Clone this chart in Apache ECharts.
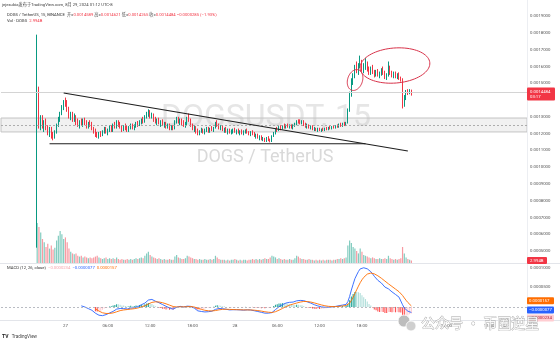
<!DOCTYPE html>
<html><head><meta charset="utf-8">
<script src="https://cdn.jsdelivr.net/npm/echarts@6/dist/echarts.min.js"></script>
<style>html,body{margin:0;padding:0;background:#fff}#c{width:560px;height:345px}</style>
</head><body><div id="c"></div>
<script>
// ---------------- DATA (prices in units of 1e-7 USDT, volume in billions DOGS) ----------------
const opens = [6000,
14700,12600,13000,12400,12700,12300,12100,12300,11900,11750,12100,12500,12900,13200,13600,
13900,13700,13400,13100,13200,12900,13000,12700,12500,12700,12600,12800,12600,12400,12600,
12500,12300,12100,11950,11850,12000,11900,12100,12300,12100,12200,12400,12200,12500,12400,
12700,12500,12350,12200,12400,12300,12200,12350,12500,12300,12450,12600,12500,12700,12800,
12700,13000,13200,13300,13000,13150,12800,12700,12850,12600,12700,12500,12600,12400,12500,
12300,12400,12300,12700,12900,12700,12800,12600,12500,12600,12900,12800,12500,12300,12400,
12100,12000,12150,12250,12100,12200,12300,12150,12300,12200,12350,12600,12500,12350,12400,
12200,12300,12100,12200,12050,12150,12250,12100,12200,12050,12150,12000,12100,12200,12050,
11950,12100,11950,11850,11900,11750,11800,11650,11700,11550,11750,11600,11550,11850,12050,
12250,12200,12400,12300,12450,12400,12500,12400,12450,12350,12500,12550,12750,12700,12600,
12750,12500,12400,12500,12350,12450,12250,12300,12200,12300,12200,12250,12200,12300,12250,
12350,12300,12400,12350,12450,12400,12550,12450,12600,12500,12650,13400,14400,15200,15500,
15900,15800,16100,16200,15900,16000,16100,15800,15700,15900,15600,15500,15700,15450,15600,
15800,15600,15350,15500,15900,15600,15450,15600,15400,15500,15300,15250,13700,14200,14500,14400,14589];
const highs = [17900,
14800,13100,13100,12800,12900,12500,12400,12400,12100,12200,12600,13000,13300,13700,14000,
14150,14000,13600,13300,13300,13200,13100,12900,12800,12900,12900,12950,12800,12700,12800,
12700,12400,12300,12100,12100,12150,12200,12400,12400,12300,12500,12500,12600,12700,12800,
12800,12700,12500,12500,12600,12500,12450,12600,12600,12550,12700,12750,12800,12900,13000,
13100,13300,13450,13400,13250,13200,13000,12900,12950,12800,12850,12700,12700,12600,12600,
12500,12500,12800,13000,13000,12900,12900,12800,12700,13000,13200,12900,12600,12500,12450,
12300,12200,12350,12300,12300,12400,12400,12350,12450,12400,12700,12800,12600,12500,12500,
12350,12400,12300,12300,12250,12300,12350,12250,12300,12200,12250,12200,12250,12300,12150,
12150,12200,12100,12000,12000,11900,11900,11800,11750,11800,11850,11700,11900,12100,12300,
12400,12450,12500,12500,12600,12550,12600,12550,12550,12550,12650,12800,12850,12850,12800,
12800,12650,12600,12550,12500,12500,12400,12350,12350,12350,12300,12350,12350,12400,12400,
12450,12450,12500,12500,12550,12600,12650,12650,12700,12700,13500,14500,15300,15600,16100,
16300,16200,16650,16400,16200,16500,16300,16000,16000,16100,15800,15800,15850,15700,15900,
16000,15750,15600,16300,16050,15750,15700,15700,15600,15650,15400,15300,14300,14600,14650,14650,14621];
const lows = [5200,
12300,12200,12300,12100,12200,11900,11800,11700,11600,11700,12000,12400,12700,13100,13400,
13600,13300,12900,12800,12700,12700,12500,12400,12300,12500,12400,12500,12300,12300,12400,
12200,12000,11800,11750,11700,11800,11850,12000,12000,11900,12100,12100,12100,12300,12300,
12400,12300,12100,12150,12200,12100,12100,12250,12250,12200,12350,12400,12450,12550,12600,
12650,12900,13000,12900,12900,12700,12600,12500,12550,12400,12450,12350,12300,12300,12200,
12200,12200,12250,12600,12600,12500,12500,12400,12350,12500,12700,12400,12200,12100,12000,
11900,11900,12050,12000,11950,12100,12050,12050,12150,12100,12300,12400,12250,12200,12150,
12050,12050,11950,12000,11950,12000,12050,11950,12000,11900,11950,11900,12000,12000,11900,
11850,11900,11800,11700,11700,11600,11600,11550,11500,11500,11550,11480,11500,11800,11950,
12100,12150,12200,12250,12300,12300,12350,12300,12300,12250,12400,12500,12600,12550,12550,
12450,12350,12300,12300,12250,12200,12150,12150,12100,12150,12100,12150,12150,12200,12200,
12250,12250,12300,12300,12350,12350,12400,12400,12450,12450,12600,13300,14200,14900,15300,
15600,15500,15900,15700,15600,15800,15700,15500,15500,15550,15350,15400,15400,15300,15450,
15500,15250,15200,15400,15500,15350,15300,15300,15250,15200,15100,13500,13600,14000,14300,14350,14265];
const closes = [14700,
12600,13000,12400,12700,12300,12100,12300,11900,11750,12100,12500,12900,13200,13600,13900,
13700,13400,13100,13200,12900,13000,12700,12500,12700,12600,12800,12600,12400,12600,12500,
12300,12100,11950,11850,12000,11900,12100,12300,12100,12200,12400,12200,12500,12400,12700,
12500,12350,12200,12400,12300,12200,12350,12500,12300,12450,12600,12500,12700,12800,12700,
13000,13200,13300,13000,13150,12800,12700,12850,12600,12700,12500,12600,12400,12500,12300,
12400,12300,12700,12900,12700,12800,12600,12500,12600,12900,12800,12500,12300,12400,12100,
12000,12150,12250,12100,12200,12300,12150,12300,12200,12350,12600,12500,12350,12400,12200,
12300,12100,12200,12050,12150,12250,12100,12200,12050,12150,12000,12100,12200,12050,11950,
12100,11950,11850,11900,11750,11800,11650,11700,11550,11750,11600,11550,11850,12050,12250,
12200,12400,12300,12450,12400,12500,12400,12450,12350,12500,12550,12750,12700,12600,12750,
12500,12400,12500,12350,12450,12250,12300,12200,12300,12200,12250,12200,12300,12250,12350,
12300,12400,12350,12450,12400,12550,12450,12600,12500,12650,13400,14400,15200,15500,15900,
15800,16100,16200,15900,16000,16100,15800,15700,15900,15600,15500,15700,15450,15600,15800,
15600,15350,15500,15900,15600,15450,15600,15400,15500,15300,15250,13700,14200,14500,14400,14589,14484];
const volumesB = [300,
45,38,30,26,20,24,18,22,17,19,28,34,40,36,30,
32,26,18,14,12,11,12,9,8,9,7,8,7,6,7,
6,7,8,9,7,6,5,6,7,5,6,5,6,5,7,
5,4,5,4,4,5,4,5,4,5,6,5,6,7,6,
9,12,14,10,8,7,6,5,6,5,4,5,4,4,5,
4,4,8,10,7,6,5,5,6,9,8,7,6,5,5,
4,5,4,4,5,4,4,5,4,5,9,7,5,4,4,
4,3,4,3,4,4,5,4,3,4,3,4,4,3,4,
4,5,4,5,4,5,4,5,6,5,5,7,9,8,7,
5,6,5,4,5,4,4,5,4,4,6,9,8,6,5,
5,4,4,5,4,4,3,4,3,4,3,4,3,4,4,
4,3,4,4,5,5,6,5,6,7,22,28,25,20,18,
15,12,18,14,10,9,8,7,6,7,6,5,5,6,5,
5,6,5,9,6,5,4,5,4,5,6,20,12,7,5,4,2.994];

// time slots: 15-minute bars, Aug 26 15:00 (UTC-8) onwards; first candle at slot 20
const slotCount = 298;
const firstCandleSlot = 20;
const timeTickLabels = [
  ['08-27 00:00','27'],['08-27 06:00','06:00'],['08-27 12:00','12:00'],['08-27 18:00','18:00'],
  ['08-28 00:00','28'],['08-28 06:00','06:00'],['08-28 12:00','12:00'],['08-28 18:00','18:00'],
  ['08-29 00:00','29'],['08-29 06:00','06:00'],['08-29 12:00','12:00']];
const macdLegendValues = ['−0.0000234','−0.0000077','0.0000157']; // hist, macd, signal
const macdLastValues = [-234, -77, 157];
const headerLine1 = 'jejesubia发布于TradingView.com, 8月 29, 2024 01:12 UTC-8';
const headerChange = '−0.0000285 (−1.93%)';
const lastVolumeText = '2.994B';
const barCountdown = '03:17';

// drawings (anchored in slot / price)
const trendLine = [[35, 14420], [230, 10960]];
const supportLine = [[27, 11400], [206, 11400]];
const zoneBand = [12100, 12930];
const zoneMid = 12510;
const ellipses = [
  {slot: 222.7, price: 16060, rSlots: 19.8, rPrice: 1045, rot: -0.08},
  {slot: 200.1, price: 15195, rSlots: 4.2, rPrice: 640, rot: 0.32}
];

// ---------------- BUILD ----------------
const FONT = 'Roboto, "Noto Sans CJK SC", sans-serif';
const pad = n => (n < 10 ? '0' : '') + n;
const categories = [];
for (let k = 0; k < slotCount; k++) {
  const m = 15 * 60 + 15 * k;
  const day = 26 + Math.floor(m / 1440), mm = m % 1440;
  categories.push('08-' + day + ' ' + pad(Math.floor(mm / 60)) + ':' + pad(mm % 60));
}
const tickMap = new Map(timeTickLabels);
const n = closes.length;
const lastSlot = firstCandleSlot + n - 1;
const toSlots = arr => categories.map((_, k) => {
  const i = k - firstCandleSlot;
  return (i >= 0 && i < arr.length && arr[i] != null) ? arr[i] : '-';
});

const UP = '#089981', DOWN = '#F23645';
const candleData = categories.map((_, k) => {
  const i = k - firstCandleSlot;
  if (i < 0 || i >= n) return '-';
  return [opens[i], closes[i], lows[i], highs[i]];
});
const volData = categories.map((_, k) => {
  const i = k - firstCandleSlot;
  if (i < 0 || i >= n) return '-';
  return {value: volumesB[i], itemStyle: {color: closes[i] >= opens[i] ? 'rgba(8,153,129,0.5)' : 'rgba(242,54,69,0.5)'}};
});

function ema(src, len) {
  const out = src.map(() => null), a = 2 / (len + 1);
  let cnt = 0, sum = 0, started = false;
  for (let i = 0; i < src.length; i++) {
    const v = src[i];
    if (v == null) continue;
    if (!started) { sum += v; cnt++; if (cnt === len) { out[i] = sum / len; started = true; } }
    else out[i] = v * a + out[i - 1] * (1 - a);
  }
  return out;
}
const e12 = ema(closes, 12), e26 = ema(closes, 26);
const macd = closes.map((_, i) => (e12[i] != null && e26[i] != null) ? e12[i] - e26[i] : null);
const signal = ema(macd, 9);
const hist = macd.map((v, i) => (v != null && signal[i] != null) ? v - signal[i] : null);
const histData = categories.map((_, k) => {
  const i = k - firstCandleSlot;
  if (i < 0 || i >= n || hist[i] == null) return '-';
  const h = hist[i], p = (i > 0 && hist[i - 1] != null) ? hist[i - 1] : h;
  const c = h >= 0 ? (p < h ? '#26A69A' : '#B2DFDB') : (p < h ? '#FFCDD2' : '#FF5252');
  return {value: h, itemStyle: {color: c}};
});

const fmtPrice = v => (v / 1e7).toFixed(7);
const noAxis = {axisLine: {show: false}, axisTick: {show: false}, splitLine: {show: false}};
const G = {left: 1, width: 526, outerBoundsMode: 'none'};

const option = {
  animation: false,
  backgroundColor: '#ffffff',
  textStyle: {fontFamily: FONT},
  grid: [
    Object.assign({top: -0.57, height: 268.37}, G),
    Object.assign({top: 223, height: 40}, G),
    Object.assign({top: 263.8, height: 62.7}, G),
    Object.assign({top: 320, height: 1}, G)
  ],
  xAxis: [0, 1, 2, 3].map(g => Object.assign({
    type: 'category', gridIndex: g, data: categories, boundaryGap: true,
    axisLabel: g === 3 ? {
      show: true, fontSize: 4.3, color: '#555', margin: 3, fontFamily: FONT,
      interval: (idx, val) => tickMap.has(val),
      formatter: val => tickMap.get(val) || ''
    } : {show: false}
  }, noAxis)),
  yAxis: [
    Object.assign({type: 'value', gridIndex: 0, position: 'right', min: 4000, max: 20000, interval: 1000,
      axisLabel: {fontSize: 4.3, color: '#555', margin: 3, fontFamily: FONT,
        formatter: v => (v >= 20000 || v <= 4000 || v === 14000) ? '' : fmtPrice(v)}}, noAxis),
    Object.assign({type: 'value', gridIndex: 1, min: 0, max: 50, axisLabel: {show: false}}, noAxis),
    Object.assign({type: 'value', gridIndex: 2, position: 'right', min: -500, max: 1100, interval: 500,
      axisLabel: {fontSize: 4.3, color: '#555', margin: 3, fontFamily: FONT,
        formatter: v => (v === 1000 || v === 500) ? fmtPrice(v) : ''}}, noAxis),
    Object.assign({type: 'value', gridIndex: 3, axisLabel: {show: false}}, noAxis)
  ],
  series: [
    {type: 'bar', name: 'vol', xAxisIndex: 1, yAxisIndex: 1, data: volData, barWidth: 1.2, z: 1, silent: true},
    {type: 'candlestick', xAxisIndex: 0, yAxisIndex: 0, data: candleData, barWidth: 1, z: 3,
      itemStyle: {color: UP, color0: DOWN, borderColor: UP, borderColor0: DOWN, borderWidth: 1},
      markArea: {silent: true, itemStyle: {color: 'rgba(190,190,190,0.22)', borderColor: '#c4c4c4', borderWidth: 1},
        data: [[{yAxis: zoneBand[0]}, {yAxis: zoneBand[1]}]]},
      markLine: {silent: true, symbol: ['none', 'none'], label: {show: false}, animation: false,
        data: [
          {yAxis: closes[n - 1], lineStyle: {color: '#d4d4d4', type: 'solid', width: 1}},
          {yAxis: zoneMid, lineStyle: {color: '#9c9c9c', type: [2, 2], width: 0.8}}
        ]}
    },
    {type: 'bar', xAxisIndex: 2, yAxisIndex: 2, data: histData, barWidth: 1.1, z: 2, silent: true,
      markLine: {silent: true, symbol: ['none', 'none'], label: {show: false},
        data: [{yAxis: 0, lineStyle: {color: '#a8abb4', type: [2, 2], width: 0.8}}]}},
    {type: 'line', xAxisIndex: 2, yAxisIndex: 2, data: toSlots(macd), symbol: 'none', z: 4,
      lineStyle: {color: '#2962FF', width: 0.9}, silent: true},
    {type: 'line', xAxisIndex: 2, yAxisIndex: 2, data: toSlots(signal), symbol: 'none', z: 4,
      lineStyle: {color: '#FF6D00', width: 0.9}, silent: true}
  ]
};

const chart = echarts.init(document.getElementById('c'), null, {renderer: 'canvas'});
chart.setOption(option);

// pixel helpers through the library's scales
function helper(xi, yi, y0, y1) {
  const a = chart.convertToPixel({xAxisIndex: xi, yAxisIndex: yi}, [0, y0]);
  const b = chart.convertToPixel({xAxisIndex: xi, yAxisIndex: yi}, [1, y1]);
  const sx = b[0] - a[0], sy = (b[1] - a[1]) / (y1 - y0);
  return (slot, v) => [a[0] + slot * sx, a[1] + (v - y0) * sy];
}
const P = helper(0, 0, 10000, 11000);
const V = helper(1, 1, 0, 10);
const M = helper(2, 2, 0, 500);

const graphics = [];
// watermark
graphics.push({type: 'text', z: -10, silent: true, style: {text: 'DOGSUSDT, 15', x: 266, y: 118, align: 'center', verticalAlign: 'middle',
  fontSize: 32, fontFamily: FONT, fill: '#e6e6e6'}});
graphics.push({type: 'text', z: -10, silent: true, style: {text: 'DOGS / TetherUS', x: 265, y: 157, align: 'center', verticalAlign: 'middle',
  fontSize: 18, fontFamily: FONT, fill: '#d9d9d9'}});
// header
graphics.push({type: 'text', z: 100, style: {text: headerLine1, x: 2, y: 5, verticalAlign: 'middle', fontSize: 4.2, fontFamily: FONT, fill: '#444'}});
const f7 = v => (v / 1e7).toFixed(7);
graphics.push({type: 'text', z: 100, style: {
  text: '{t|DOGS / TetherUS, 15, BINANCE}  {l|开=}{v|' + f7(opens[n-1]) + '} {l|高=}{v|' + f7(highs[n-1]) + '} {l|低=}{v|' + f7(lows[n-1]) + '} {l|收=}{v|' + f7(closes[n-1]) + '} {v|' + headerChange + '}',
  x: 7, y: 15, verticalAlign: 'middle', fontSize: 4.2, fontFamily: FONT,
  rich: {t: {fill: '#333', fontSize: 4.2, fontFamily: FONT}, l: {fill: '#555', fontSize: 4.2, fontFamily: FONT}, v: {fill: DOWN, fontSize: 4.2, fontFamily: FONT}}}});
graphics.push({type: 'text', z: 100, style: {
  text: '{t|Vol · DOGS}  {v|' + lastVolumeText + '}', x: 7, y: 21, verticalAlign: 'middle', fontSize: 4.2, fontFamily: FONT,
  rich: {t: {fill: '#333', fontSize: 4.2, fontFamily: FONT}, v: {fill: DOWN, fontSize: 4.2, fontFamily: FONT}}}});
graphics.push({type: 'text', z: 100, style: {
  text: '{t|MACD (12, 26, close)}  {h|' + macdLegendValues[0] + '}  {m|' + macdLegendValues[1] + '}  {s|' + macdLegendValues[2] + '}',
  x: 7, y: 268, verticalAlign: 'middle', fontSize: 4.2, fontFamily: FONT,
  rich: {t: {fill: '#333', fontSize: 4.2, fontFamily: FONT}, h: {fill: '#f5a3ab', fontSize: 4.2, fontFamily: FONT},
    m: {fill: '#2962FF', fontSize: 4.2, fontFamily: FONT}, s: {fill: '#FF6D00', fontSize: 4.2, fontFamily: FONT}}}});
// pane separators
graphics.push({type: 'line', z: 50, silent: true, shape: {x1: 0, y1: 263.5, x2: 560, y2: 263.5}, style: {stroke: '#e3e5ea', lineWidth: 1}});
graphics.push({type: 'line', z: 50, silent: true, shape: {x1: 0, y1: 320.5, x2: 560, y2: 320.5}, style: {stroke: '#e3e5ea', lineWidth: 1}});
graphics.push({type: 'line', z: 50, silent: true, shape: {x1: 527.5, y1: 0, x2: 527.5, y2: 321}, style: {stroke: '#eceef2', lineWidth: 1}});
// trend & support lines
[trendLine, supportLine].forEach(l => {
  const a = P(l[0][0], l[0][1]), b = P(l[1][0], l[1][1]);
  graphics.push({type: 'line', z: 60, silent: true, shape: {x1: a[0], y1: a[1], x2: b[0], y2: b[1]}, style: {stroke: '#1e1e1e', lineWidth: 1.1}});
});
// ellipses
ellipses.forEach(e => {
  const c = P(e.slot, e.price);
  const rx = P(e.slot + e.rSlots, e.price)[0] - c[0];
  const ry = c[1] - P(e.slot, e.price + e.rPrice)[1];
  const pts = [];
  for (let j = 0; j <= 80; j++) {
    const t = j / 80 * Math.PI * 2, ex = rx * Math.cos(t), ey = ry * Math.sin(t);
    pts.push([c[0] + ex * Math.cos(e.rot) - ey * Math.sin(e.rot), c[1] + ex * Math.sin(e.rot) + ey * Math.cos(e.rot)]);
  }
  graphics.push({type: 'polyline', z: 60, silent: true, shape: {points: pts}, style: {stroke: '#d8334a', lineWidth: 1, fill: null}});
});
// right-side labels
const yc = P(lastSlot, closes[n - 1])[1];
graphics.push({type: 'rect', z: 100, shape: {x: 527, y: yc - 4.5, width: 28, height: 13, r: 1}, style: {fill: DOWN}});
graphics.push({type: 'text', z: 101, style: {text: f7(closes[n - 1]) + '\n' + barCountdown, x: 530, y: yc - 3, fontSize: 4.3, lineHeight: 5.5, fontFamily: FONT, fill: '#fff'}});
const yv = V(lastSlot, volumesB[n - 1])[1];
graphics.push({type: 'rect', z: 100, shape: {x: 527, y: yv - 3.5, width: 20, height: 7, r: 1}, style: {fill: DOWN}});
graphics.push({type: 'text', z: 101, style: {text: lastVolumeText, x: 530, y: yv, verticalAlign: 'middle', fontSize: 4.3, fontFamily: FONT, fill: '#fff'}});
const macdTags = [
  {v: macdLastValues[2], t: macdLegendValues[2], bg: '#FF6D00', fg: '#fff'},
  {v: macdLastValues[1], t: macdLegendValues[1], bg: '#2962FF', fg: '#fff'},
  {v: macdLastValues[0], t: macdLegendValues[0], bg: '#FFCDD2', fg: '#b3263a'}
];
let prevY = -1e9;
macdTags.forEach(tg => {
  let y = M(lastSlot, tg.v)[1];
  if (y < prevY + 8) y = prevY + 8;
  prevY = y;
  graphics.push({type: 'rect', z: 100, shape: {x: 527, y: y - 3.5, width: 27, height: 7, r: 1}, style: {fill: tg.bg}});
  graphics.push({type: 'text', z: 101, style: {text: tg.t, x: 529, y: y, verticalAlign: 'middle', fontSize: 4.3, fontFamily: FONT, fill: tg.fg}});
});
// TradingView logo
graphics.push({type: 'text', z: 100, style: {text: '{b|TV} {t|TradingView}', x: 2, y: 337, verticalAlign: 'middle',
  rich: {b: {fontSize: 5, fontWeight: 'bold', fill: '#222', fontFamily: FONT}, t: {fontSize: 4.6, fill: '#444', fontFamily: FONT}}}});
// WeChat watermark
graphics.push({type: 'circle', z: 110, silent: true, shape: {cx: 404, cy: 321, r: 6}, style: {fill: '#bdbdbd', stroke: '#fff', lineWidth: 0.8}});
graphics.push({type: 'circle', z: 111, silent: true, shape: {cx: 411, cy: 326, r: 5}, style: {fill: '#cfcfcf', stroke: '#fff', lineWidth: 0.8}});
graphics.push({type: 'text', z: 112, silent: true, style: {text: '公众号 · 币圈逆星', x: 421, y: 323, verticalAlign: 'middle',
  fontSize: 14, fontFamily: '"Noto Sans CJK SC", sans-serif', fill: 'rgba(255,255,255,0.92)', stroke: '#a5a5a5', lineWidth: 0.8}});

chart.setOption({graphic: {elements: graphics}});
</script>
</body></html>
